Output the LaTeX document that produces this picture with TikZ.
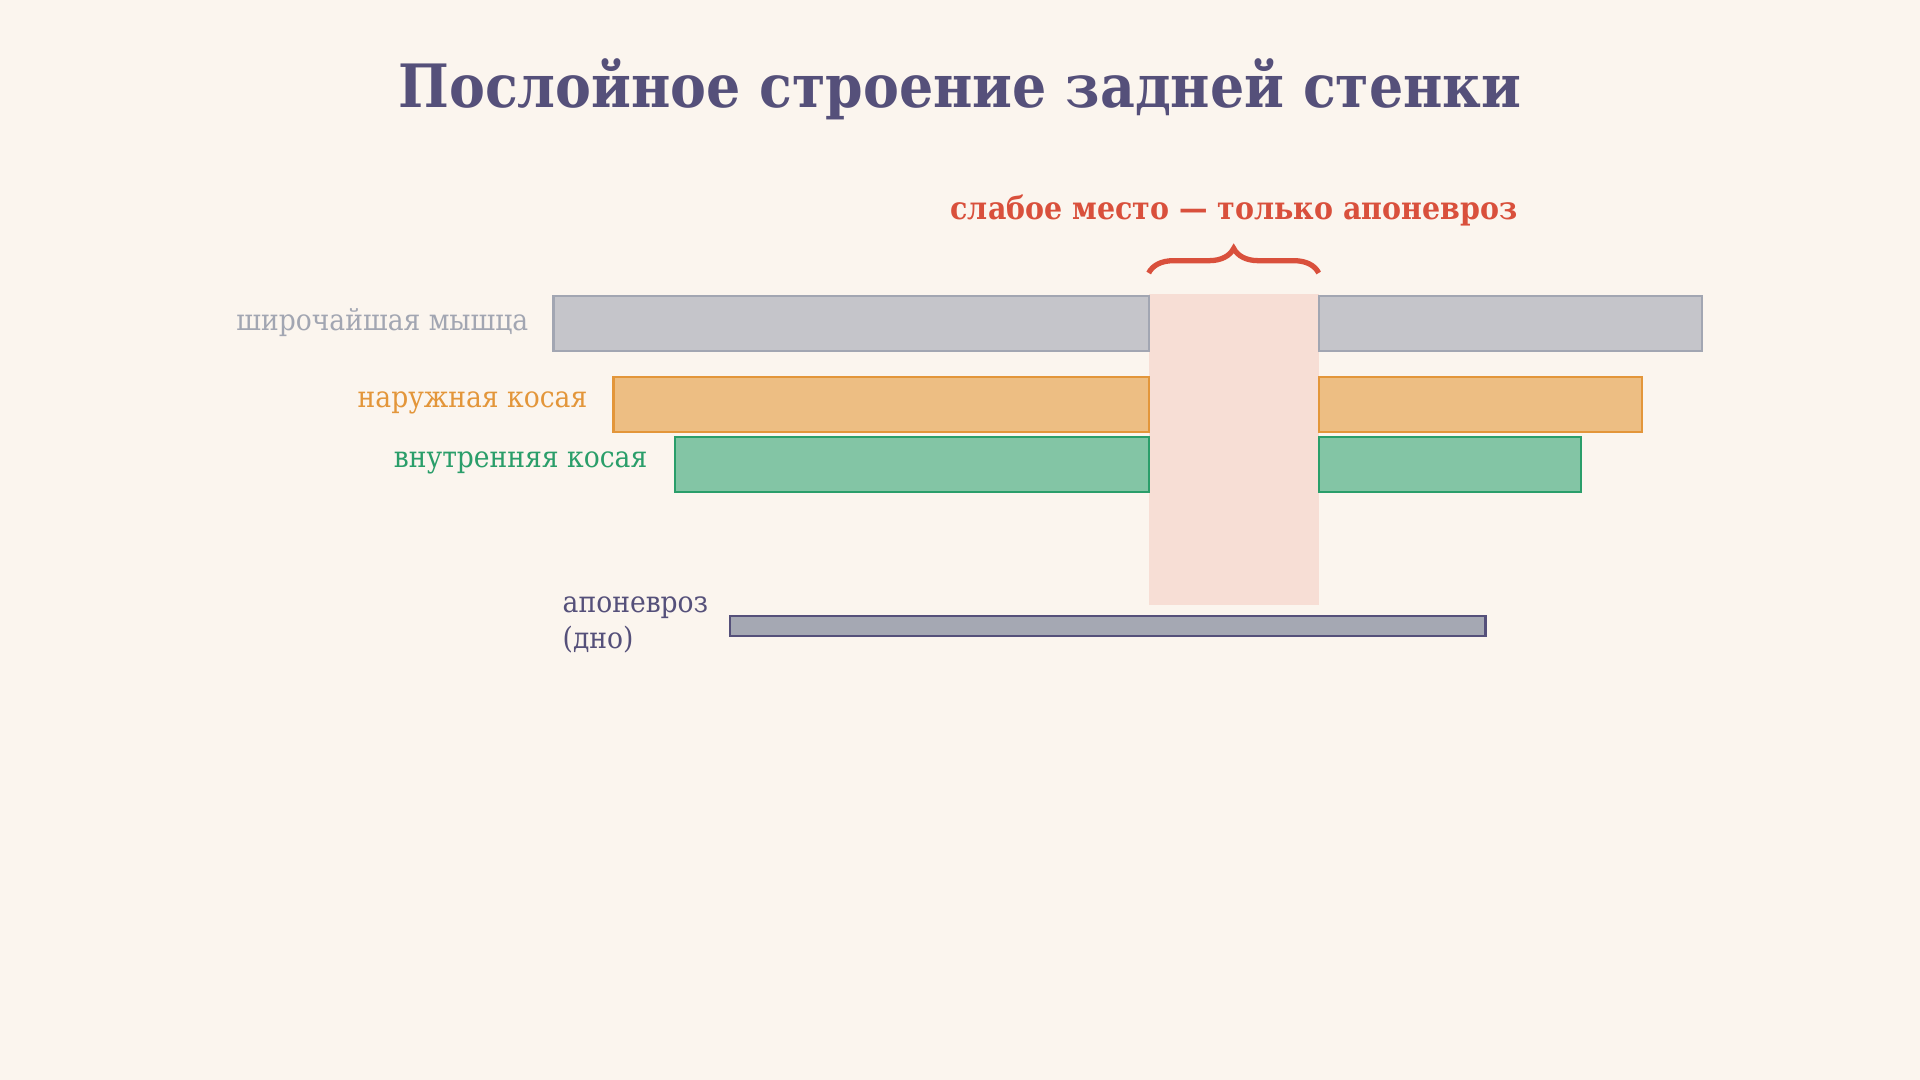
\documentclass[tikz,border=0pt]{standalone}
\usepackage{fontspec}
\setmainfont{DejaVu Serif}[FakeStretch=0.9]
\usetikzlibrary{decorations.pathreplacing}
\definecolor{bgcol}{HTML}{FBF5EE}
\definecolor{titlecol}{HTML}{55507A}
\definecolor{weakred}{HTML}{D9503C}
\definecolor{gapcol}{HTML}{F7DED5}
\definecolor{latfill}{HTML}{C5C5CA}
\definecolor{latline}{HTML}{A2A6B2}
\definecolor{extfill}{HTML}{EDBE83}
\definecolor{extline}{HTML}{E3963A}
\definecolor{intfill}{HTML}{83C5A5}
\definecolor{intline}{HTML}{2A9E6A}
\definecolor{apofill}{HTML}{A5A8B3}

\tikzset{
	lat/.style={fill=latfill, draw=latline, line width=0.6pt},
	ext/.style={fill=extfill, draw=extline, line width=0.6pt},
	int/.style={fill=intfill, draw=intline, line width=0.6pt},
	apo/.style={fill=apofill, draw=titlecol, line width=0.7pt},
	layerlabel/.style={anchor=base east, inner sep=0pt, font=\fontsize{8.4}{10}\selectfont}
}

\begin{document}
\begin{tikzpicture}[x=0.01cm, y=-0.01cm]
	\fill[bgcol] (0,0) rectangle (1920,1080);
	\useasboundingbox (0,0) rectangle (1920,1080);

	\node[anchor=base, inner sep=0pt, text=titlecol, font=\bfseries\fontsize{17}{20}\selectfont] (title) at (960,108) {Послойное строение задней стенки};

	% weak spot between the muscles
	\fill[gapcol] (1148.7,294) rectangle (1318.7,605);
	\coordinate (bl) at (1148.7,273);
	\coordinate (br) at (1318.7,273);
	\draw[weakred, line width=1.5pt, decorate, decoration={brace, amplitude=7pt}] (bl) -- (br);
	\node[anchor=base, inner sep=0pt, text=weakred, font=\bfseries\fontsize{9}{11}\selectfont] (weak) at (1234,220) {слабое место — только апоневроз};

	% layers
	\draw[lat] (553.5,296.3) rectangle (1148.7,351.4);
	\draw[lat] (1318.7,296.3) rectangle (1702,351.4);
	\node[layerlabel, text=latline] (latlab) at (529,331) {широчайшая мышца};

	\draw[ext] (613.5,377) rectangle (1148.7,432);
	\draw[ext] (1318.7,377) rectangle (1642,432);
	\node[layerlabel, text=extline] (extlab) at (588,408) {наружная косая};

	\draw[int] (674.7,437) rectangle (1148.7,492);
	\draw[int] (1318.7,437) rectangle (1581,492);
	\node[layerlabel, text=intline] (intlab) at (648,468) {внутренняя косая};

	\draw[apo] (729.8,616) rectangle (1485.3,636);
	\node[anchor=base west, inner sep=0pt, text=titlecol, align=left, font=\fontsize{8.4}{10.5}\selectfont] (apolab) at (562,649) {апоневроз\\(дно)};
\end{tikzpicture}
\end{document}
